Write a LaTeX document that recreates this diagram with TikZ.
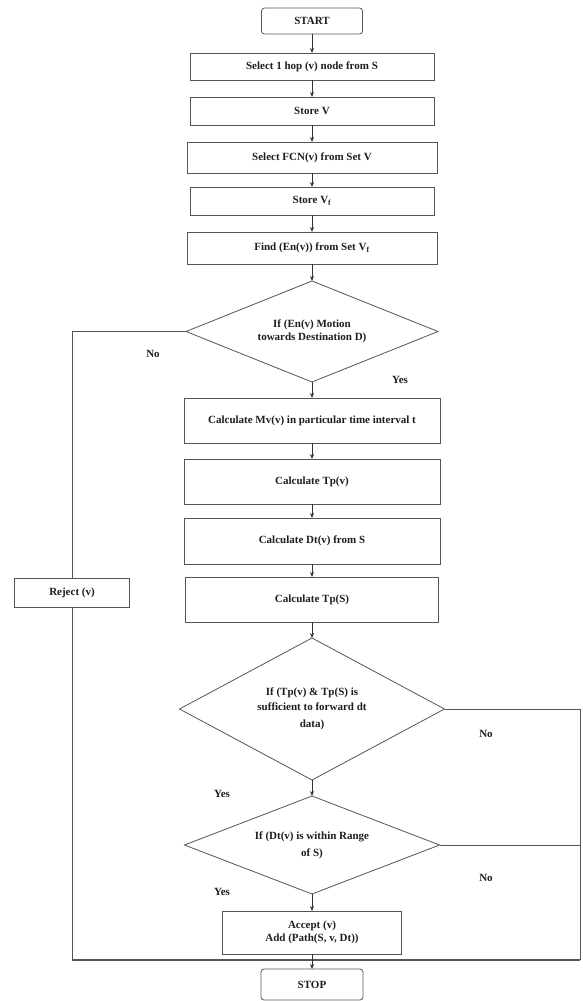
\documentclass[tikz,border=0pt]{standalone}
\usepackage{fontspec}
\setmainfont{Liberation Serif}
\usetikzlibrary{arrows.meta,positioning,shapes.geometric}
\definecolor{boxline}{HTML}{555555}
\definecolor{inkdark}{HTML}{1E1E1E}

\begin{document}
\begin{tikzpicture}[
  x=1pt, y=-1pt,
  font=\fontsize{11}{13}\selectfont\bfseries,
  node distance=16pt,
  stepbox/.style  = {draw=boxline, line width=0.8pt, fill=white, text=inkdark, align=center,
                     inner sep=2pt, outer sep=0pt, minimum width=244pt, minimum height=28pt},
  termbox/.style  = {stepbox, rounded corners=3pt, minimum width=101pt, minimum height=26pt},
  ask/.style      = {diamond, draw=boxline, line width=0.8pt, fill=white, text=inkdark, align=center,
                     inner sep=1pt, outer sep=0pt},
  ln/.style       = {-{Stealth[length=5pt,width=4pt]}, draw=boxline!60!black, line width=0.8pt},
  wire/.style     = {draw=boxline, line width=0.8pt},
  lbl/.style      = {text=inkdark, inner sep=1pt},
]
\useasboundingbox (0,0) rectangle (582,1001);

% --- the straight run, top to bottom ----------------------------------------------------------------
\node[termbox] (start) at (312,21) {START};
\node[stepbox, below=19pt of start, minimum height=27pt] (hop) {Select 1 hop (v) node from S};
\node[stepbox, below=17pt of hop] (storev) {Store V};
\node[stepbox, below=17pt of storev, minimum width=250pt, minimum height=31pt] (fcn) {Select FCN(v) from Set V};
\node[stepbox, below=14pt of fcn] (storevf) {Store V\textsubscript{f}};
\node[stepbox, below=17pt of storevf, minimum width=250pt, minimum height=32pt] (find) {Find (En(v)) from Set V\textsubscript{f}};

\node[ask, below=17pt of find, minimum width=252pt, minimum height=101pt, aspect=2.5] (motion)
  {If (En(v) Motion\\towards Destination D)};

\node[stepbox, below=16pt of motion, minimum width=256pt, minimum height=45pt] (mv)
  {Calculate Mv(v) in particular time interval t};
\node[stepbox, below=16pt of mv, minimum width=256pt, minimum height=45pt] (tpv) {Calculate Tp(v)};
\node[stepbox, below=14pt of tpv, minimum width=256pt, minimum height=46pt] (dtv) {Calculate Dt(v) from S};
\node[stepbox, below=13pt of dtv, minimum width=253pt, minimum height=45pt] (tps) {Calculate Tp(S)};

\node[ask, below=16pt of tps, minimum width=265pt, minimum height=142pt, aspect=1.87] (enough)
  {If (Tp(v) \& Tp(S) is\\[2pt]sufficient to forward dt\\[4pt]data)};
\node[ask, below=16pt of enough, minimum width=255pt, minimum height=98pt, aspect=2.6] (range)
  {If (Dt(v) is within Range\\[4pt]of S)};

\node[stepbox, below=17pt of range, minimum width=179pt, minimum height=43pt] (accept)
  {Accept (v)\\Add (Path(S, v, Dt))};
\node[termbox, below=15pt of accept, minimum width=102pt, minimum height=31pt] (stop) {STOP};

\foreach \a/\b in {start/hop, hop/storev, storev/fcn, fcn/storevf, storevf/find, find/motion,
                   motion/mv, mv/tpv, tpv/dtv, dtv/tps, tps/enough, enough/range, range/accept}
  \draw[ln] (\a) -- (\b);

% --- the reject branch on the left, the two No branches on the right --------------------------------
\node[stepbox, minimum width=115pt, minimum height=29pt] (reject) at (72,592.5) {Reject (v)};
\coordinate (redge) at (580,960);
\coordinate (lbot) at (reject.south |- redge);

\draw[wire] (motion.west) -| (reject.north);
\draw[wire] (reject.south) -- (lbot);
\draw[wire, line width=1.8pt] (lbot) -- (redge);
\draw[wire] (enough.east) -| (redge);
\draw[wire] (range.east) -- (range.east -| redge);
\draw[ln] (accept) -- (stop);

\node[lbl] at (153,354) {No};
\node[lbl] at (400,380) {Yes};
\node[lbl] at (486,734) {No};
\node[lbl] at (222,794) {Yes};
\node[lbl] at (222,892) {Yes};
\node[lbl] at (486,878) {No};

\end{tikzpicture}
\end{document}
